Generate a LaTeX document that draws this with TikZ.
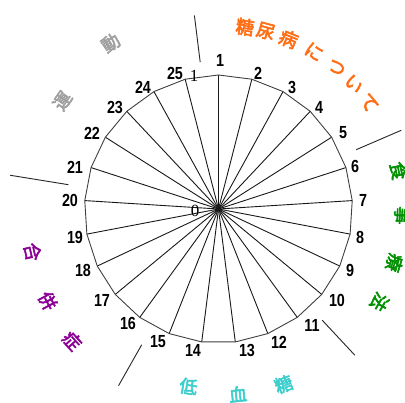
\documentclass[tikz,border=0pt]{standalone}
\usepackage{fontspec}
\setmainfont{Liberation Sans}
\newfontfamily\numfont{Liberation Sans}[FakeStretch=0.82]
\newfontfamily\scalefont{Liberation Serif}
\newfontfamily\jpfont{Noto Sans CJK JP}[FakeBold=3]
\definecolor{corange}{RGB}{255,110,20}
\definecolor{cgreen}{RGB}{0,145,0}
\definecolor{ccyan}{RGB}{60,205,205}
\definecolor{cpurple}{RGB}{140,0,150}
\definecolor{cgray}{RGB}{160,160,160}
\begin{document}
\begin{tikzpicture}[x=1pt,y=-1pt,
  spoke/.style={draw=black!90, line width=0.9pt},
  rim/.style={draw=black!75, line width=0.9pt},
  divider/.style={draw=black!85, line width=0.9pt},
  numlab/.style={font=\numfont\bfseries\fontsize{17.5}{17.5}\selectfont, inner sep=0pt},
  scalelab/.style={font=\scalefont\fontsize{17}{17}\selectfont, inner sep=0pt},
  jp/.style={font=\jpfont\fontsize{18.5}{18.5}\selectfont, inner sep=0pt},
  jps/.style={font=\jpfont\fontsize{18}{18}\selectfont, inner sep=0pt}]
\useasboundingbox (0,0) rectangle (405,403);
\fill[white] (0,0) rectangle (405,403);
\coordinate (c) at (218.5,209);
% spokes
\foreach \k in {1,...,25} {
  \pgfmathsetmacro\t{(\k-1)*14.4}
  \coordinate (v\k) at ({218.5+134*sin(\t)},{209-134*cos(\t)});
  \draw[spoke] (c) -- (v\k);
}
% rim
\draw[rim] (v1) -- (v2) -- (v3) -- (v4) -- (v5) -- (v6) -- (v7) -- (v8) -- (v9) -- (v10)
  -- (v11) -- (v12) -- (v13) -- (v14) -- (v15) -- (v16) -- (v17) -- (v18) -- (v19) -- (v20)
  -- (v21) -- (v22) -- (v23) -- (v24) -- (v25) -- cycle;
% item numbers
\foreach \k/\x/\y in {1/220/60, 2/258/73, 3/292/87, 4/319/107, 5/343/133, 6/355/166,
  7/363/200, 8/360/237, 9/350/270, 10/337/300, 11/312/325, 12/279/342, 13/247/350,
  14/193/350, 15/158/342, 16/128/323, 17/102/300, 18/83/270, 19/75/237, 20/70/200,
  21/75/167, 22/92/133, 23/115/107, 24/143/87, 25/175/73}
  \node[numlab] (n\k) at (\x,\y) {\k};
% scale labels
\node[scalelab] (s1) at (194,76) {1};
\node[scalelab] (s0) at (195,211) {0};
% section dividers
\foreach \i/\a/\r/\R in {1/-7.1/148/195, 2/66.7/150/199, 3/137/152/200, 4/209.5/156/203, 5/279.2/152/211} {
  \coordinate (da\i) at ({218.5+\r*sin(\a)},{209-\r*cos(\a)});
  \coordinate (db\i) at ({218.5+\R*sin(\a)},{209-\R*cos(\a)});
  \draw[divider] (da\i) -- (db\i);
}
% section titles (tops outward)
\foreach \ch/\a [count=\i] in {糖/8.3, 尿/14.9, 病/22.4, に/31.3, つ/39.8, い/47.3, て/54.8}
  \node[jp, text=corange, rotate=-\a] (o\i) at ({218.5+184*sin(\a)},{209-184*cos(\a)}) {\ch};
\foreach \ch/\a/\r [count=\i] in {食/78/184, 事/92/184, 療/107/184, 法/120/186}
  \node[jps, text=cgreen, rotate=-\a] (g\i) at ({218.5+\r*sin(\a)},{209-\r*cos(\a)}) {\ch};
\foreach \ch/\a/\r [count=\i] in {運/304.7/190, 動/327/198}
  \node[jps, text=cgray, rotate=-\a] (y\i) at ({218.5+\r*sin(\a)},{209-\r*cos(\a)}) {\ch};
% section titles (tops inward)
\foreach \ch/\a/\r [count=\i] in {低/189.6/180, 血/174/186, 糖/159.6/187}
  \node[jps, text=ccyan, rotate={180-\a}] (b\i) at ({218.5+\r*sin(\a)},{209-\r*cos(\a)}) {\ch};
\foreach \ch/\a/\r [count=\i] in {合/257/191, 併/241.7/194, 症/228/197}
  \node[jps, text=cpurple, rotate={180-\a}] (p\i) at ({218.5+\r*sin(\a)},{209-\r*cos(\a)}) {\ch};
\end{tikzpicture}
\end{document}
